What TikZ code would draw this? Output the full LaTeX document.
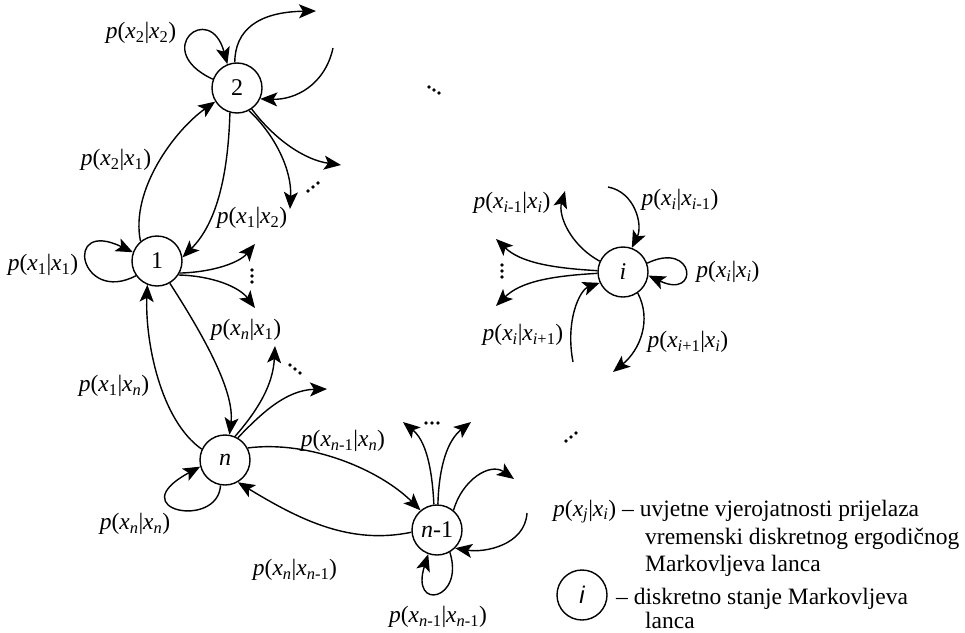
\documentclass[tikz,border=0pt]{standalone}
\usepackage{fontspec}
\setmainfont{Liberation Serif}
\newfontfamily\lsans{Liberation Sans}
\usetikzlibrary{arrows.meta}
\newcommand\pl[2]{\textit{p}(\textit{x}\textsubscript{#1}|\textit{x}\textsubscript{#2})}
\begin{document}
\begin{tikzpicture}[x=1pt,y=-1pt,
  st/.style={circle,draw,line width=1.4pt,minimum size=50pt,inner sep=0pt,font=\fontsize{24}{28}\selectfont},
  lbl/.style={font=\fontsize{23.5}{27}\selectfont,inner sep=0pt},
  lg/.style={font=\fontsize{23.5}{27}\selectfont,inner sep=0pt,anchor=base west},
  ar/.style={line width=1.4pt,-{Stealth[length=17pt,width=14pt,inset=4pt]}},
  ln/.style={line width=1.4pt}]
\useasboundingbox (0,0) rectangle (965,632);
% states
\node[st] (n2) at (237,88) {2};
\node[st] (n1) at (157,261) {1};
\node[st] (nn) at (225,460) {\textit{n}};
\node[st] (nm) at (437,530) {\textit{n}-1};
\node[st] (ni) at (623,272) {\textit{i}};
\node[st] (leg) at (582,595) {\lsans\itshape i};
% free ends
\coordinate (a2o) at (316,11);
\coordinate (a2i) at (333,48);
\coordinate (a2r) at (341,165);
\coordinate (a2d) at (290,209);
\coordinate (a1u) at (255,244);
\coordinate (a1d) at (255,308);
\coordinate (anu) at (275,346);
\coordinate (anr) at (327,389);
\coordinate (amL) at (403,422);
\coordinate (amR) at (471,422);
\coordinate (amr) at (514,479);
\coordinate (ami) at (527,513);
\coordinate (aii) at (608,187);
\coordinate (aio) at (565,191);
\coordinate (aiu) at (496,239);
\coordinate (aid) at (496,306);
\coordinate (aib) at (573,362);
\coordinate (aiB) at (613,372);
% node 2
\draw[ar] (n2.160) .. controls (150,50) and (210,0) .. (n2.112);
\draw[ar] (n2.95) .. controls (235,30) and (258,12) .. (a2o);
\draw[ar] (a2i) .. controls (325,85) and (295,100) .. (n2.-25);
\draw[ar] (n2.-55) .. controls (275,140) and (305,160) .. (a2r);
\draw[ar] (n2.-62) .. controls (275,135) and (292,170) .. (a2d);
\draw[ar] (n2.-106) .. controls (228,180) and (215,225) .. (n1.8);
\draw[ar] (n1.130) .. controls (130,190) and (175,130) .. (n2.212);
% node 1
\draw[ar] (n1.215) .. controls (80,305) and (62,218) .. (n1.160);
\draw[ar] (n1.-28) .. controls (215,272) and (240,262) .. (a1u);
\draw[ar] (n1.-33) .. controls (215,276) and (240,288) .. (a1d);
\draw[ar] (n1.-60) .. controls (200,330) and (235,390) .. (nn.80);
\draw[ar] (nn.155) .. controls (160,420) and (145,340) .. (n1.-112);
% node n
\draw[ar] (nn.67) .. controls (258,410) and (273,385) .. (anu);
\draw[ar] (nn.60) .. controls (260,415) and (285,390) .. (anr);
\draw[ar] (nn.-100) .. controls (218,530) and (120,510) .. (nn.195);
\draw[ar] (nn.28) .. controls (310,440) and (380,470) .. (nm.130);
\draw[ar] (nm.185) .. controls (350,545) and (300,520) .. (nn.-60);
% node n-1
\draw[ar] (nm.97) .. controls (432,465) and (425,440) .. (amL);
\draw[ar] (nm.88) .. controls (439,465) and (448,440) .. (amR);
\draw[ar] (nm.50) .. controls (462,480) and (490,462) .. (amr);
\draw[ar] (ami) .. controls (525,545) and (485,553) .. (nm.-45);
\draw[ar] (nm.-60) .. controls (465,600) and (410,612) .. (nm.-110);
% node i
\draw[ar] (aii) .. controls (635,192) and (643,225) .. (ni.70);
\draw[ar] (ni.155) .. controls (570,245) and (558,215) .. (aio);
\draw[ar] (ni.177) .. controls (550,268) and (520,262) .. (aiu);
\draw[ar] (ni.183) .. controls (550,276) and (520,282) .. (aid);
\draw[ar] (ni.20) .. controls (695,240) and (700,300) .. (ni.-8);
\draw[ar] (aib) .. controls (565,320) and (580,290) .. (ni.205);
\draw[ar] (ni.-55) .. controls (652,320) and (640,350) .. (aiB);
% dots
\foreach \p in {(429,87),(434,90),(439,93),
  (308,191),(313,187),(318,183),
  (252,270),(252,276),(252,282),
  (290,365),(295,369),(300,373),
  (426,423),(432,423),(438,423),
  (566,441),(571,437),(576,433),
  (502,265),(502,271),(502,277)}
  \fill \p circle (1.9);
% labels
\node[lbl] (l22) at (141,33) {\pl{2}{2}};
\node[lbl] (l21) at (116,160) {\pl{2}{1}};
\node[lbl] (l12) at (252,218) {\pl{1}{2}};
\node[lbl] (l11) at (43,265) {\pl{1}{1}};
\node[lbl] (ln1) at (246,330) {\pl{\textit{n}}{1}};
\node[lbl] (l1n) at (114,386) {\pl{1}{\textit{n}}};
\node[lbl] (lmn) at (343,441) {\pl{\textit{n}-1}{\textit{n}}};
\node[lbl] (lnn) at (135,524) {\pl{\textit{n}}{\textit{n}}};
\node[lbl] (lnm) at (295,570) {\pl{\textit{n}}{\textit{n}-1}};
\node[lbl] (lmm) at (438,617) {\pl{\textit{n}-1}{\textit{n}-1}};
\node[lbl] (lai) at (512,203) {\pl{\textit{i}-1}{\textit{i}}};
\node[lbl] (lia) at (680,200) {\pl{\textit{i}}{\textit{i}-1}};
\node[lbl] (lii) at (728,272) {\pl{\textit{i}}{\textit{i}}};
\node[lbl] (lib) at (523,335) {\pl{\textit{i}}{\textit{i}+1}};
\node[lbl] (lbi) at (688,342) {\pl{\textit{i}+1}{\textit{i}}};
% legend
\node[lg] (t1) at (553,516) {\pl{\textit{j}}{\textit{i}} -- uvjetne vjerojatnosti prijelaza};
\node[lg] (t2) at (645,544) {vremenski diskretnog ergodičnog};
\node[lg] (t3) at (645,571) {Markovljeva lanca};
\node[lg] (t4) at (616,604) {-- diskretno stanje Markovljeva};
\node[lg] (t5) at (645,628) {lanca};
\end{tikzpicture}
\end{document}
